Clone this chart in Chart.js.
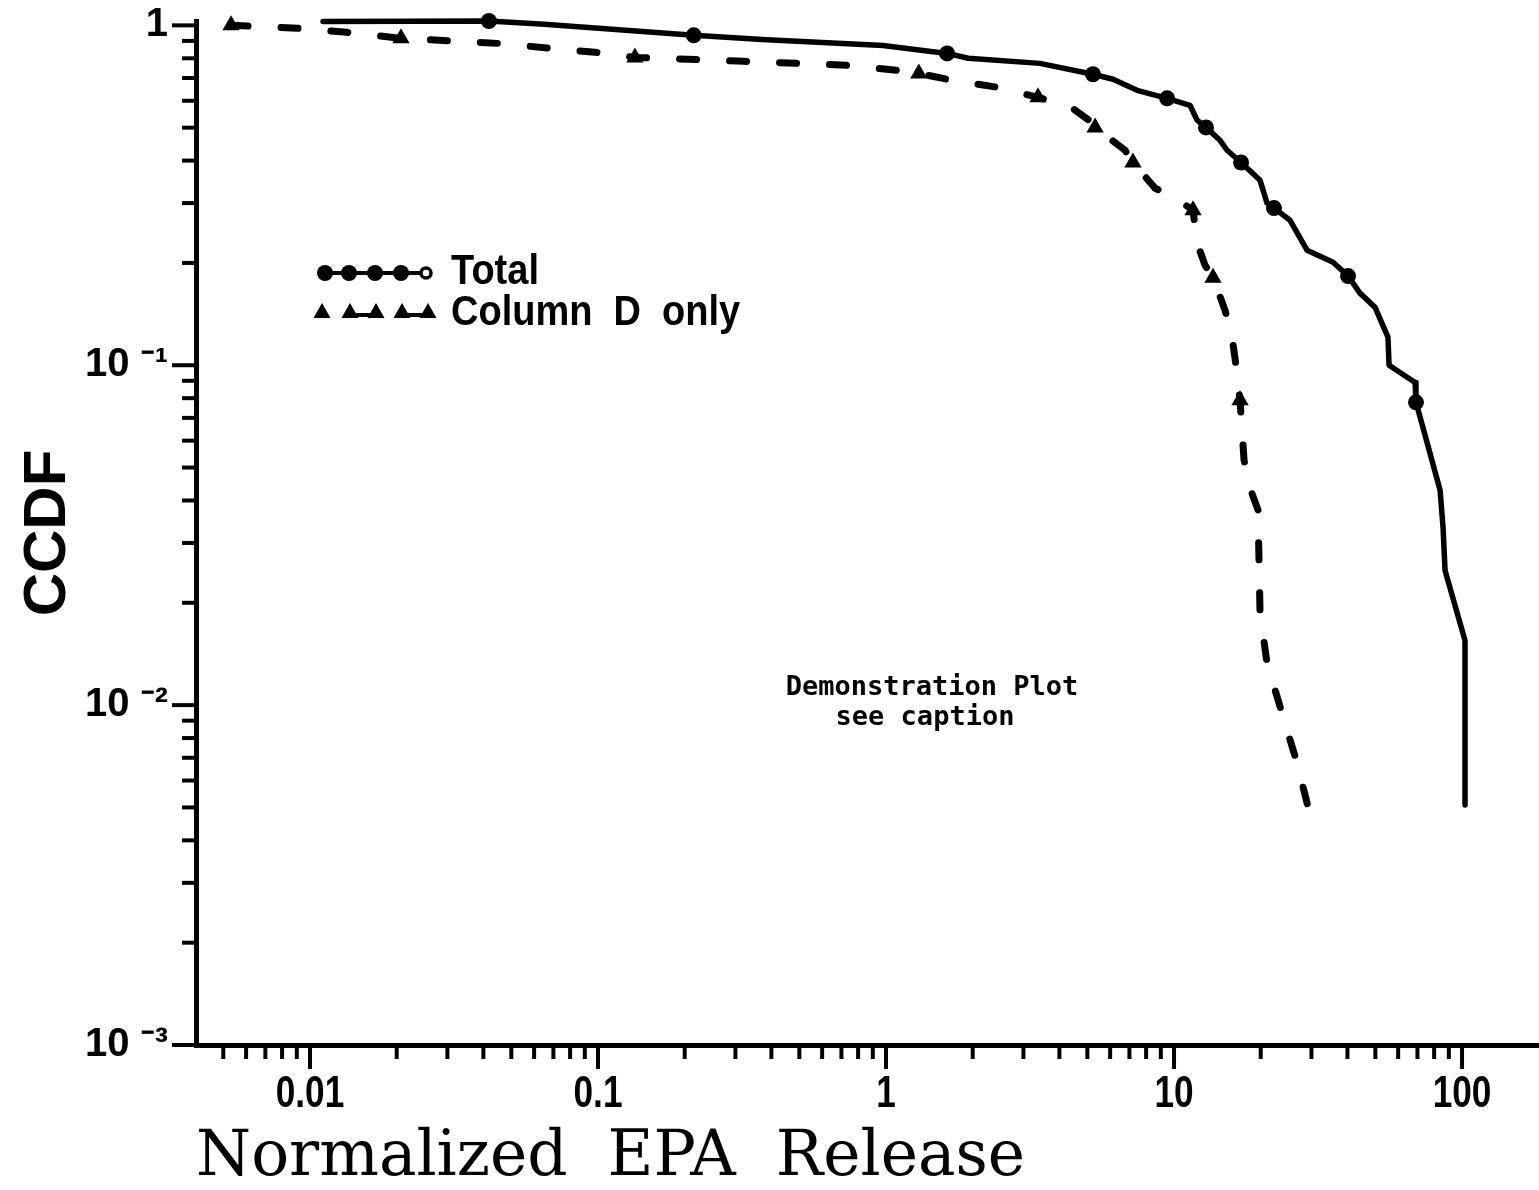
<!DOCTYPE html>
<html><head><meta charset="utf-8">
<script src="https://cdn.jsdelivr.net/npm/chart.js@4/dist/chart.umd.min.js"></script>
<style>html,body{margin:0;padding:0;background:#fff;overflow:hidden}#wrap{width:1539px;height:1190px}canvas{display:block}</style>
</head><body><div id="wrap"><canvas id="c" width="1539" height="1190"></canvas></div>
<script>
// ---- data ----
const totalX = [0.0111, 0.0418, 0.065, 0.215, 0.371, 0.976, 1.63, 1.93, 3.42, 5.23, 6.14, 7.44, 9.46, 11.36, 12.02, 12.91, 14.44, 15.28, 17.09, 19.89, 21.03, 22.24, 25.28, 28.96, 35.66, 40.2, 44.2, 49.9, 55.3, 55.8, 68.7, 69.2, 77.4, 83.9, 85.9, 87.3, 102.4, 102.4];
const totalY = [1.027, 1.03, 1.007, 0.935, 0.909, 0.873, 0.827, 0.80, 0.773, 0.718, 0.694, 0.644, 0.610, 0.582, 0.526, 0.501, 0.459, 0.429, 0.395, 0.350, 0.300, 0.290, 0.267, 0.218, 0.201, 0.183, 0.163, 0.148, 0.121, 0.100, 0.089, 0.0778, 0.0551, 0.0429, 0.0334, 0.0249, 0.0155, 0.00508];
const totalMarkX = [0.0418, 0.215, 1.63, 5.23, 9.46, 12.91, 17.09, 22.24, 40.2, 69.2];
const totalMarkY = [1.03, 0.935, 0.827, 0.718, 0.610, 0.501, 0.395, 0.290, 0.183, 0.0778];

const colDX = [0.00532, 0.00908, 0.01344, 0.0207, 0.0449, 0.0976, 0.1344, 0.321, 0.732, 1.10, 1.30, 1.63, 2.45, 3.37, 4.39, 5.07, 5.32, 6.76, 7.20, 8.59, 10.33, 11.64, 12.02, 12.81, 13.66, 15.04, 15.9, 16.28, 16.95, 17.5, 18.36, 19.57, 19.73, 19.89, 21.03, 23.71, 26.74, 29.2];
const colDY = [1.0, 0.980, 0.954, 0.916, 0.885, 0.833, 0.805, 0.784, 0.763, 0.737, 0.722, 0.694, 0.657, 0.614, 0.574, 0.526, 0.501, 0.429, 0.395, 0.332, 0.306, 0.286, 0.229, 0.197, 0.181, 0.145, 0.121, 0.105, 0.0789, 0.0526, 0.0435, 0.0375, 0.0263, 0.01865, 0.01329, 0.00947, 0.00675, 0.00501];
const colDMarkX = [0.00532, 0.0207, 0.1344, 1.30, 3.37, 5.32, 7.20, 11.64, 13.66, 16.95];
const colDMarkY = [1.0, 0.916, 0.805, 0.722, 0.614, 0.501, 0.395, 0.286, 0.181, 0.0789];

const xTickValues = [0.01, 0.1, 1, 10, 100];
const xTickLabels = ['0.01', '0.1', '1', '10', '100'];
const yTickValues = [1, 0.1, 0.01, 0.001];
const yTickLabels = ['1', '10 \u207B\u00B9', '10 \u207B\u00B2', '10 \u207B\u00B3'];
const seriesNames = ['Total', 'Column  D  only'];
const noteLines = ['Demonstration Plot', 'see caption'];
const xTitle = 'Normalized  EPA  Release';
const yTitle = 'CCDF';
const xRange = [0.00402, 185];
const yRange = [0.001, 1.03];

// ---- helpers ----
const pts = (xs, ys) => xs.map((x, i) => ({x: x, y: ys[i]}));
const near = (v, arr) => arr.findIndex(a => Math.abs(v - a) <= a * 1e-6);

const tickMarks = {
  id: 'tickMarks',
  afterDraw(chart) {
    const ctx = chart.ctx;
    ctx.save();
    ctx.strokeStyle = '#000';
    ctx.lineWidth = 4;
    ctx.lineCap = 'butt';
    ['x', 'y'].forEach(id => {
      const s = chart.scales[id];
      const lo = Math.floor(Math.log10(s.min)), hi = Math.ceil(Math.log10(s.max));
      for (let d = lo; d <= hi; d++) {
        for (let m = 1; m <= 9; m++) {
          const v = m * Math.pow(10, d);
          if (v < s.min * 0.999 || v > s.max * 1.001) continue;
          const p = s.getPixelForValue(v);
          const len = m === 1 ? 24 : 14;
          ctx.beginPath();
          if (id === 'x') { ctx.moveTo(p, s.top); ctx.lineTo(p, s.top + len); }
          else { ctx.moveTo(s.right, p); ctx.lineTo(s.right - len, p); }
          ctx.stroke();
        }
      }
    });
    // condensed x tick labels
    const sx = chart.scales.x;
    ctx.fillStyle = '#000';
    ctx.font = 'bold 44px "Liberation Sans", Arial, sans-serif';
    ctx.textAlign = 'center';
    ctx.textBaseline = 'middle';
    xTickValues.forEach((v, i) => {
      const p = sx.getPixelForValue(v);
      ctx.save();
      ctx.translate(p, sx.top + 50);
      ctx.scale(0.8, 1);
      ctx.fillText(xTickLabels[i], 0, 0);
      ctx.restore();
    });
    ctx.restore();
  }
};

const annot = {
  id: 'annot',
  afterDraw(chart) {
    const ctx = chart.ctx;
    ctx.save();
    ctx.fillStyle = '#000';
    ctx.strokeStyle = '#000';
    const lx = [325, 349, 375, 401];
    ctx.lineWidth = 4;
    ctx.beginPath(); ctx.moveTo(325, 273); ctx.lineTo(425, 273); ctx.stroke();
    lx.forEach(x => { ctx.beginPath(); ctx.arc(x, 273, 8, 0, Math.PI * 2); ctx.fill(); });
    ctx.fillStyle = '#fff';
    ctx.beginPath(); ctx.arc(426, 273, 5, 0, Math.PI * 2); ctx.fill();
    ctx.lineWidth = 3.5; ctx.stroke();
    ctx.fillStyle = '#000';
    const tri = (x, y) => { ctx.beginPath(); ctx.moveTo(x, y - 9); ctx.lineTo(x + 8.5, y + 6); ctx.lineTo(x - 8.5, y + 6); ctx.closePath(); ctx.fill(); };
    ctx.lineWidth = 4;
    [[350, 376], [402, 428]].forEach(([a, b]) => { ctx.beginPath(); ctx.moveTo(a, 315); ctx.lineTo(b, 315); ctx.stroke(); });
    [322, 350, 376, 402, 428].forEach(x => tri(x, 312));
    ctx.font = 'bold 38px "Liberation Sans", Arial, sans-serif';
    ctx.textBaseline = 'middle';
    ctx.textAlign = 'left';
    ctx.save(); ctx.translate(451, 272); ctx.scale(1, 1.1); ctx.fillText(seriesNames[0], 0, 0); ctx.restore();
    ctx.save(); ctx.translate(451, 313); ctx.scale(1, 1.1); ctx.fillText(seriesNames[1], 0, 0); ctx.restore();
    ctx.font = 'bold 27px "DejaVu Sans Mono", "Liberation Mono", monospace';
    ctx.textAlign = 'center';
    ctx.fillText(noteLines[0], 932, 688);
    ctx.fillText(noteLines[1], 925, 718);
    ctx.restore();
  }
};

new Chart(document.getElementById('c'), {
  type: 'scatter',
  data: {
    datasets: [
      {label: seriesNames[0], data: pts(totalX, totalY), showLine: true, borderColor: '#000', borderWidth: 5.5,
       pointRadius: 0, tension: 0, borderCapStyle: 'round', borderJoinStyle: 'round', clip: false},
      {label: seriesNames[0] + ' markers', data: pts(totalMarkX, totalMarkY), showLine: false, pointStyle: 'circle',
       pointRadius: 8, backgroundColor: '#000', borderColor: '#000', borderWidth: 0, clip: false},
      {label: seriesNames[1], data: pts(colDX, colDY), showLine: true, borderColor: '#000', borderWidth: 7,
       borderDash: [17, 33], pointRadius: 0, tension: 0, borderCapStyle: 'round', borderJoinStyle: 'round', clip: false},
      {label: seriesNames[1] + ' markers', data: pts(colDMarkX, colDMarkY), showLine: false, pointStyle: 'triangle',
       pointRadius: 10, backgroundColor: '#000', borderColor: '#000', borderWidth: 0, clip: false}
    ]
  },
  options: {
    responsive: false,
    animation: false,
    devicePixelRatio: 1,
    layout: {autoPadding: false, padding: {top: 21, left: 0, right: 0, bottom: 0}},
    plugins: {legend: {display: false}, tooltip: {enabled: false}},
    scales: {
      x: {
        type: 'logarithmic', position: 'bottom', min: xRange[0], max: xRange[1],
        grid: {display: true, drawOnChartArea: false, drawTicks: false},
        border: {display: true, width: 5, color: '#000'},
        ticks: {display: false, autoSkip: false, maxRotation: 0, minRotation: 0},
        title: {display: true, text: xTitle, align: 'start', color: '#000',
          font: {family: '"DejaVu Serif", serif', size: 63, lineHeight: 1, weight: 'normal'}, padding: {top: 0, bottom: 0}},
        afterFit(s) { s.height = 145; s.paddingLeft = 0; s.paddingRight = 0; }
      },
      y: {
        type: 'logarithmic', position: 'left', min: yRange[0], max: yRange[1],
        grid: {display: true, drawOnChartArea: false, drawTicks: false},
        border: {display: true, width: 5, color: '#000'},
        ticks: {
          autoSkip: false, padding: 28, color: '#000',
          font: {family: '"Liberation Sans", Arial, sans-serif', size: 40, weight: 'bold'},
          callback: (v) => { const i = near(v, yTickValues); return i >= 0 ? yTickLabels[i] : ''; }
        },
        title: {display: true, text: yTitle, color: '#000',
          font: {family: '"Liberation Sans", Arial, sans-serif', size: 60, lineHeight: 1, weight: 'bold'}, padding: {top: 18, bottom: 0}},
        afterFit(s) { s.width = 196; s.paddingTop = 0; s.paddingBottom = 0; s.paddingLeft = 0; s.paddingRight = 0; }
      }
    }
  },
  plugins: [tickMarks, annot]
});
</script></body></html>
